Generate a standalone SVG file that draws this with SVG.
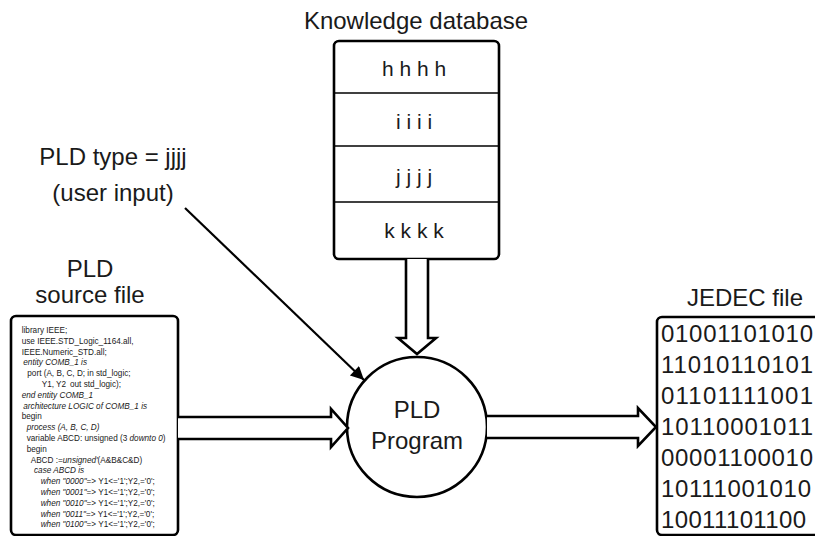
<svg xmlns="http://www.w3.org/2000/svg" width="815" height="536" viewBox="0 0 815 536">
<style>
  .t { font-family: "Liberation Sans", Arial, sans-serif; fill: #1a1a1a; }
  .lbl { font-size: 24px; text-anchor: middle; }
  .kb { font-size: 21px; text-anchor: middle; }
  .bin { font-size: 24px; }
  .code { font-size: 8.2px; }
  .it { font-style: italic; }
  .box { fill: #fff; stroke: #000; stroke-width: 2.6; }
  .div { stroke: #000; stroke-width: 1.5; }
  .fat { fill: #fff; stroke: #000; stroke-width: 2.6; stroke-linejoin: miter; }
  .ptr { stroke: #000; stroke-width: 2.2; fill: none; }
</style>
<defs>
  <marker id="ah" viewBox="0 0 10 10" refX="10" refY="5" markerWidth="7" markerHeight="6" markerUnits="strokeWidth" orient="auto">
    <path d="M0,0 L10,5 L0,10 z" fill="#000"/>
  </marker>
</defs>

<g id="knowledge-db">
  <text class="t lbl" x="416" y="29">Knowledge database</text>
  <rect class="box" x="334" y="41" width="165" height="218" rx="5"/>
  <line class="div" x1="334" y1="93" x2="499" y2="93"/>
  <line class="div" x1="334" y1="146" x2="499" y2="146"/>
  <line class="div" x1="334" y1="202" x2="499" y2="202"/>
  <text class="t kb" x="414" y="76">h h h h</text>
  <text class="t kb" x="414" y="129">i i i i</text>
  <text class="t kb" x="414" y="184">j j j j</text>
  <text class="t kb" x="414" y="238">k k k k</text>
</g>

<g id="user-input">
  <text class="t lbl" x="113" y="165" font-size="26">PLD type = jjjj</text>
  <text class="t lbl" x="113" y="201" font-size="26">(user input)</text>
</g>

<g id="source-file">
  <text class="t lbl" x="90" y="277">PLD</text>
  <text class="t lbl" x="90" y="303">source file</text>
  <rect class="box" x="11" y="316" width="167" height="219" rx="5"/>
  <g class="t code">
    <text x="21.7" y="333">library IEEE;</text>
    <text x="21.7" y="343.8">use IEEE.STD_Logic_1164.all,</text>
    <text x="21.7" y="354.6">IEEE.Numeric_STD.all;</text>
    <text x="23.3" y="365.4" class="it">entity COMB_1 is</text>
    <text x="27.3" y="376.2">port (A, B, C, D; in std_logic;</text>
    <text x="41.7" y="387">Y1, Y2</text>
    <text x="70" y="387">out std_logic);</text>
    <text x="21.7" y="397.8" class="it">end entity COMB_1</text>
    <text x="23.3" y="408.6" class="it">architecture LOGIC of COMB_1 is</text>
    <text x="21.7" y="419.4">begin</text>
    <text x="26.7" y="430.2" class="it">process (A, B, C, D)</text>
    <text x="26.7" y="441">variable ABCD: unsigned (3 <tspan class="it">downto 0</tspan>)</text>
    <text x="26.7" y="451.8">begin</text>
    <text x="30.7" y="462.6">ABCD :=<tspan class="it">unsigned'</tspan>(A&amp;B&amp;C&amp;D)</text>
    <text x="34" y="473.4" class="it">case ABCD is</text>
    <text x="40.7" y="484.2"><tspan class="it">when "0000"</tspan>=&gt; Y1&lt;='1';Y2,='0';</text>
    <text x="40.7" y="495"><tspan class="it">when "0001"</tspan>=&gt; Y1&lt;='1';Y2,='0';</text>
    <text x="40.7" y="505.8"><tspan class="it">when "0010"</tspan>=&gt; Y1&lt;='1';Y2,='0';</text>
    <text x="40.7" y="516.6"><tspan class="it">when "0011"</tspan>=&gt; Y1&lt;='1';Y2,='0';</text>
    <text x="40.7" y="527.4"><tspan class="it">when "0100"</tspan>=&gt; Y1&lt;='1';Y2,='0';</text>
  </g>
</g>

<g id="pld-program">
  <circle class="box" cx="417" cy="427" r="70"/>
  <text class="t lbl" x="417" y="418">PLD</text>
  <text class="t lbl" x="417" y="449">Program</text>
</g>

<g id="jedec-file">
  <text class="t lbl" x="745" y="306">JEDEC file</text>
  <rect class="box" x="657" y="317" width="180" height="218" rx="5"/>
  <g class="t bin">
    <text x="661" y="342" textLength="152" lengthAdjust="spacing">01001101010</text>
    <text x="661" y="373" textLength="152" lengthAdjust="spacing">11010110101</text>
    <text x="661" y="404" textLength="152" lengthAdjust="spacing">01101111001</text>
    <text x="661" y="435" textLength="152" lengthAdjust="spacing">10110001011</text>
    <text x="661" y="466" textLength="152" lengthAdjust="spacing">00001100010</text>
    <text x="661" y="497" textLength="150" lengthAdjust="spacing">10111001010</text>
    <text x="661" y="528" textLength="145" lengthAdjust="spacing">10011101100</text>
  </g>
</g>

<g id="connectors">
  <path class="fat" d="M406,259 L406,338 L398,338 L417,354 L436,338 L428,338 L428,259"/>
  <path class="fat" d="M178,417 L331,417 L331,409 L348,428 L331,447 L331,439 L178,439"/>
  <path class="fat" d="M487,416 L638,416 L638,408 L656,427 L638,446 L638,438 L487,438"/>
  <line class="ptr" x1="185" y1="208" x2="364" y2="380" marker-end="url(#ah)"/>
</g>
</svg>
